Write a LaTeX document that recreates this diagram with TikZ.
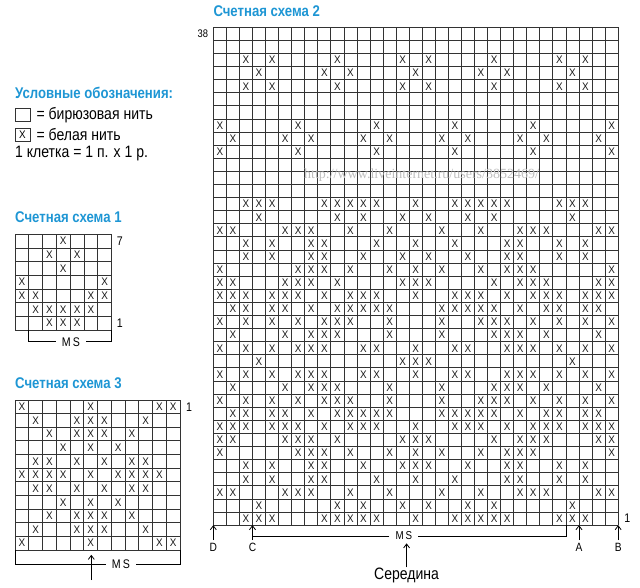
\documentclass[tikz,border=0pt]{standalone}
\usepackage{fontspec}
\setmainfont{Liberation Sans}[FakeStretch=0.85]
\newfontfamily\xfont{Liberation Sans}[FakeStretch=0.9]
\newfontfamily\wmfont{Liberation Serif}
\usetikzlibrary{positioning, arrows.meta}
\definecolor{headblue}{RGB}{30,150,212}
\tikzset{
    gridline/.style={
        draw=black!80,
        line width=0.8pt
    },
    xmark/.style={
        inner sep=0pt,
        font=\xfont\fontsize{11}{11}\selectfont,
        text=black!90
    },
    heading/.style={
        inner sep=0pt,
        anchor=west,
        font=\bfseries\fontsize{15.5}{18}\selectfont,
        text=headblue
    },
    legtext/.style={
        inner sep=0pt,
        anchor=west,
        font=\fontsize{16.5}{18}\selectfont
    },
    legbox/.style={
        gridline,
        minimum width=15pt,
        minimum height=13.4pt,
        inner sep=0pt,
        font=\xfont\fontsize{11}{11}\selectfont
    },
    rowlabel/.style={
        inner sep=0pt,
        font=\fontsize{12.5}{13}\selectfont
    },
    mslabel/.style={
        inner xsep=6pt,
        inner ysep=0pt,
        font=\fontsize{12.5}{13}\selectfont
    },
    letter/.style={
        inner sep=2.5pt,
        font=\fontsize{12}{12}\selectfont
    },
    arrowup/.style={
        line width=0.8pt,
        -{Straight Barb[length=4pt, width=6pt]}
    },
    bracket/.style={
        line width=0.8pt
    },
    watermark/.style={
        inner sep=0pt,
        font=\wmfont\fontsize{14}{14}\selectfont,
        text=black!25
    },
}

\begin{document}
\begin{tikzpicture}[x=1pt, y=1pt, node distance=6pt]
\useasboundingbox (0,0) rectangle (640,587);

% Legend
\node[heading] (legend) at (15,494.5) {Условные обозначения:};
\node[legbox] (box-empty) at (22.5,472) {};
\node[legtext, right=6pt of box-empty] (text-empty) {= бирюзовая нить};
\node[legbox] (box-x) at (22.5,452.3) {X};
\node[legtext, right=6pt of box-x] (text-x) {= белая нить};
\node[legtext] (cellsize) at (15,433) {1 клетка = 1 п. x 1 р.};

% Chart 1
\begin{scope}[shift={(15,257)}, x=13.8pt, y=13.67pt]
  \foreach \c in {0,...,7} \draw[gridline] (\c,0) -- (\c,7);
  \foreach \r in {0,...,7} \draw[gridline] (0,\r) -- (7,\r);
  \foreach \r/\cols in {1/{3,4,5}, 2/{2,3,4,5,6}, 3/{1,2,6,7}, 4/{1,7},
                        5/{4}, 6/{3,5}, 7/{4}}
    \foreach \c in \cols
      \node[xmark] (s1-\r-\c) at (\c-0.5,\r-0.5) {X};
  \coordinate (s1-nw) at (0,7);
  \coordinate (s1-top) at (7,6.5);
  \coordinate (s1-bottom) at (7,0.5);
  \coordinate (s1-left) at (1,0);
  \coordinate (s1-right) at (7,0);
  \node[mslabel] (s1-ms) at (4.05,-0.86) {M\,S};
\end{scope}
\node[heading, above right=11pt and 0pt of s1-nw] (title1) {Счетная схема 1};
\node[rowlabel, right=5pt of s1-top] (s1-lab7) {7};
\node[rowlabel, right=5pt of s1-bottom] (s1-lab1) {1};
\draw[bracket] (s1-ms.west) -| (s1-left);
\draw[bracket] (s1-ms.east) -| (s1-right);

% Chart 3
\begin{scope}[shift={(15,37)}, x=13.75pt, y=13.64pt]
  \foreach \c in {0,...,12} \draw[gridline] (\c,0) -- (\c,11);
  \foreach \r in {0,...,11} \draw[gridline] (0,\r) -- (12,\r);
  \foreach \r/\cols in {1/{1,6,11,12}, 2/{2,5,6,7,10}, 3/{3,5,6,7,9},
                        4/{4,6,8}, 5/{2,3,5,7,9,10}, 6/{1,2,3,4,6,8,9,10,11},
                        7/{2,3,5,7,9,10}, 8/{4,6,8}, 9/{3,5,6,7,9},
                        10/{2,5,6,7,10}, 11/{1,6,11,12}}
    \foreach \c in \cols
      \node[xmark] (s3-\r-\c) at (\c-0.5,\r-0.5) {X};
  \coordinate (s3-nw) at (0,11);
  \coordinate (s3-top) at (12,10.5);
  \coordinate (s3-left) at (0,0);
  \coordinate (s3-right) at (12,0);
  \coordinate (s3-tip) at (5.55,-0.35);
  \coordinate (s3-foot) at (5.55,-2.2);
  \node[mslabel] (s3-ms) at (7.7,-1.03) {M\,S};
\end{scope}
\node[heading, above right=11pt and 0pt of s3-nw] (title3) {Счетная схема 3};
\node[rowlabel, right=6pt of s3-top] (s3-lab1) {1};
\draw[bracket] (s3-ms.west) -| (s3-left);
\draw[bracket] (s3-ms.east) -| (s3-right);
\draw[arrowup] (s3-foot) -- (s3-tip);

% Chart 2
\begin{scope}[shift={(213.3,61.9)}, x=13.06pt, y=13.1pt]
  \foreach \c in {0,...,31} \draw[gridline] (\c,0) -- (\c,38);
  \foreach \r in {0,...,38} \draw[gridline] (0,\r) -- (31,\r);
  \foreach \r/\cols in {
      1/{3,4,5,9,10,11,12,13,16,19,20,21,22,23,27,28,29},
      2/{4,10,12,15,17,20,22,28},
      3/{1,2,6,7,8,11,14,18,21,24,25,26,30,31},
      4/{3,5,8,9,13,16,19,23,24,27,29},
      5/{3,5,8,9,12,15,16,17,20,23,24,27,29},
      6/{1,7,8,9,11,14,16,18,21,23,24,25,31},
      7/{1,2,6,7,8,10,15,16,17,22,24,25,26,30,31},
      8/{1,2,3,5,6,7,9,11,12,13,16,19,20,21,23,25,26,27,29,30,31},
      9/{2,3,5,6,8,10,11,12,13,14,18,19,20,21,22,24,26,27,29,30},
      10/{1,3,5,7,9,10,11,14,18,21,22,23,25,27,29,31},
      11/{2,6,8,9,10,14,18,22,23,24,26,30},
      12/{1,3,5,7,8,9,12,13,16,19,20,23,24,25,27,29,31},
      13/{4,15,16,17,28},
      14/{1,3,5,7,8,9,12,13,16,19,20,23,24,25,27,29,31},
      15/{2,6,8,9,10,14,18,22,23,24,26,30},
      16/{1,3,5,7,9,10,11,14,18,21,22,23,25,27,29,31},
      17/{2,3,5,6,8,10,11,12,13,14,18,19,20,21,22,24,26,27,29,30},
      18/{1,2,3,5,6,7,9,11,12,13,16,19,20,21,23,25,26,27,29,30,31},
      19/{1,2,6,7,8,10,15,16,17,22,24,25,26,30,31},
      20/{1,7,8,9,11,14,16,18,21,23,24,25,31},
      21/{3,5,8,9,12,15,17,20,23,24,27,29},
      22/{3,5,8,9,13,16,19,23,24,27,29},
      23/{1,2,6,7,8,11,14,18,21,24,25,26,30,31},
      24/{4,10,12,15,17,20,22,28},
      25/{3,4,5,9,10,11,12,13,16,19,20,21,22,23,27,28,29},
      29/{1,7,13,19,25,31},
      30/{2,6,8,12,14,18,20,24,26,30},
      31/{1,7,13,19,25,31},
      34/{3,5,10,15,17,22,27,29},
      35/{4,9,11,16,21,23,28},
      36/{3,5,10,15,17,22,27,29}}
    \foreach \c in \cols
      \node[xmark] (s2-\r-\c) at (\c-0.5,\r-0.5) {X};
  \coordinate (s2-nw) at (0,38);
  \coordinate (s2-top) at (0,37.5);
  \coordinate (s2-bottom) at (31,0.5);
  \coordinate (D-tip) at (0,0);
  \coordinate (C-tip) at (3,0);
  \coordinate (A-tip) at (28,0);
  \coordinate (B-tip) at (31,0);
  \coordinate (ms-right) at (27,0);
  \coordinate (mid-tip) at (14.8,-1.39);
  \node[letter] (D) at (0,-1.67) {D};
  \node[letter] (C) at (3,-1.67) {C};
  \node[letter] (A) at (28,-1.67) {A};
  \node[letter] (B) at (31,-1.67) {B};
  \node[mslabel, font=\fontsize{11.5}{12}\selectfont] (s2-ms) at (14.6,-0.83) {M\,S};
  \node[legtext, anchor=center] (middle) at (14.8,-3.81) {Середина};
\end{scope}
\node[heading, above right=10.5pt and 0pt of s2-nw] (title2) {Счетная схема 2};
\node[rowlabel, font=\fontsize{11}{11}\selectfont, left=5pt of s2-top] (s2-lab38) {38};
\node[rowlabel, right=6pt of s2-bottom] (s2-lab1) {1};
\node[watermark] (wm) at (421.5,412) {http://www.liveinternet.ru/users/3852469/};

% Arrows
\draw[arrowup] (D) -- (D-tip);
\draw[arrowup] (C) -- (C-tip);
\draw[arrowup] (A) -- (A-tip);
\draw[arrowup] (B) -- (B-tip);
\draw[arrowup] (middle) -- (mid-tip);
\draw[bracket] (s2-ms.west) -- (s2-ms.west -| C-tip);
\draw[bracket] (s2-ms.east) -| (ms-right);

\end{tikzpicture}
\end{document}
